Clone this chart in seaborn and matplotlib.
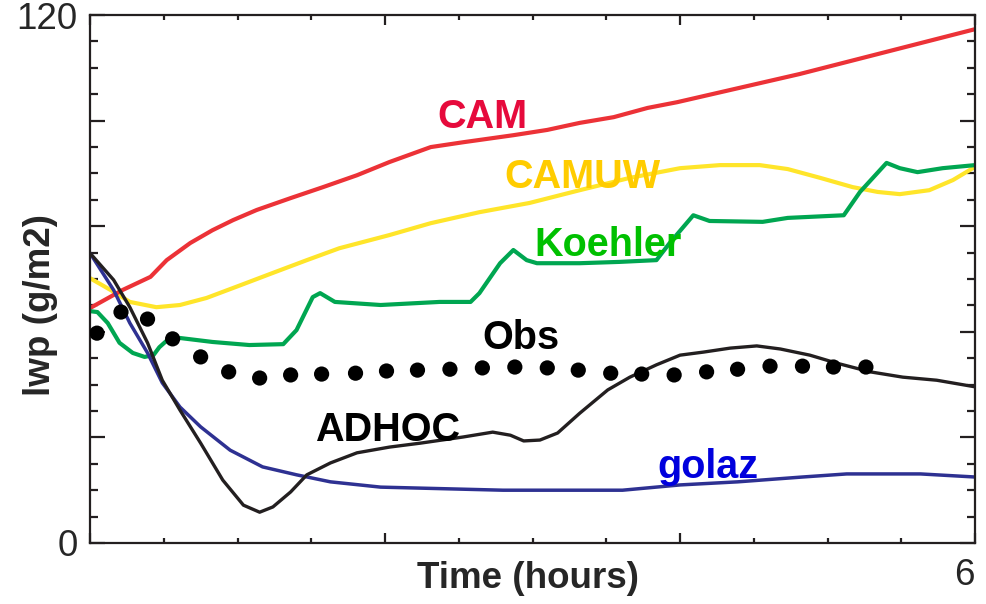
import matplotlib
matplotlib.use("Agg")
import matplotlib.pyplot as plt
import seaborn as sns
from matplotlib.ticker import MultipleLocator, FixedLocator, FixedFormatter

sns.set_style("ticks")
plt.rcParams['font.family'] = ['Liberation Sans', 'DejaVu Sans']

# ---------------- data ----------------
cam_t = [0, 0.22, 0.41, 0.52, 0.68, 0.83, 0.97, 1.13, 1.36, 1.58, 1.81, 2.03, 2.31,
         2.53, 2.87, 3.10, 3.32, 3.55, 3.78, 3.98, 4.81, 6.0]
cam_v = [53.4, 57.5, 60.5, 64.3, 68.2, 71.1, 73.4, 75.7, 78.4, 80.9, 83.6, 86.6, 90.0,
         91.1, 92.7, 93.9, 95.5, 96.8, 98.9, 100.2, 106.6, 116.8]

camuw_t = [0, 0.14, 0.27, 0.45, 0.61, 0.79, 1.02, 1.24, 1.47, 1.69, 2.03, 2.31, 2.64,
           2.98, 3.32, 3.66, 4.0, 4.27, 4.54, 4.73, 4.95, 5.17, 5.34, 5.49, 5.69, 5.85, 6.0]
camuw_v = [60.2, 57.5, 54.8, 53.6, 54.1, 55.7, 58.6, 61.4, 64.3, 67.0, 70.0, 72.7, 75.2,
           77.3, 80.2, 83.0, 85.2, 85.9, 85.9, 85.0, 83.0, 80.9, 79.8, 79.3, 80.2, 82.5, 85.5]

koehler_t = [0, 0.05, 0.12, 0.20, 0.29, 0.37, 0.43, 0.47, 0.54, 0.61, 0.83, 1.08, 1.31,
             1.40, 1.51, 1.56, 1.66, 1.97, 2.37, 2.58, 2.64, 2.78, 2.87, 2.96, 3.03,
             3.32, 3.59, 3.84, 3.93, 4.09, 4.20, 4.56, 4.73, 5.11, 5.22, 5.40, 5.49,
             5.61, 5.78, 6.0]
koehler_v = [52.7, 52.5, 50.0, 45.5, 43.2, 42.3, 42.7, 44.5, 46.6, 46.6, 45.7, 45.0, 45.2,
             48.4, 55.9, 56.8, 54.8, 54.1, 54.8, 54.8, 56.8, 63.6, 66.6, 64.3, 63.6,
             63.6, 63.9, 64.3, 68.2, 74.5, 73.2, 73.0, 73.9, 74.5, 79.8, 86.4, 85.2,
             84.3, 85.2, 85.9]

adhoc_t = [0, 0.16, 0.27, 0.39, 0.49, 0.61, 0.75, 0.90, 1.04, 1.15, 1.24, 1.36, 1.47,
           1.63, 1.81, 2.03, 2.24, 2.53, 2.73, 2.85, 2.94, 3.05, 3.17, 3.32, 3.51,
           3.66, 3.84, 4.0, 4.16, 4.34, 4.52, 4.68, 4.88, 5.06, 5.29, 5.51, 5.74, 6.0]
adhoc_v = [65.9, 59.8, 53.6, 45.5, 37.0, 30.2, 22.7, 14.3, 8.6, 7.0, 8.2, 11.6, 15.5,
           18.2, 20.5, 21.8, 22.7, 24.1, 25.2, 24.5, 23.2, 23.4, 25.0, 29.5, 34.8,
           37.7, 40.5, 42.7, 43.4, 44.3, 44.8, 44.1, 42.7, 40.9, 38.9, 37.7, 37.0, 35.5]

golaz_t = [0, 0.16, 0.27, 0.39, 0.49, 0.61, 0.75, 0.95, 1.17, 1.40, 1.63, 1.97, 2.80,
           3.61, 4.0, 4.39, 4.83, 5.13, 5.63, 6.0]
golaz_v = [65.9, 57.5, 50.0, 43.2, 36.4, 30.9, 26.4, 21.1, 17.3, 15.5, 13.9, 12.7, 12.0,
           12.0, 13.2, 13.9, 15.0, 15.7, 15.7, 15.0]

obs_t = [0.047, 0.21, 0.39, 0.56, 0.75, 0.94, 1.15, 1.36, 1.57, 1.80, 2.01, 2.22, 2.44,
         2.66, 2.88, 3.10, 3.31, 3.53, 3.74, 3.96, 4.18, 4.39, 4.61, 4.83, 5.04, 5.26]
obs_v = [47.7, 52.5, 50.9, 46.4, 42.3, 38.9, 37.5, 38.2, 38.4, 38.6, 39.1, 39.3, 39.5,
         39.8, 40.0, 39.8, 39.3, 38.6, 38.4, 38.2, 38.9, 39.5, 40.2, 40.2, 40.0, 40.0]

y_ticks = [0, 24, 48, 72, 96, 120]
y_tick_labels = ['0', '', '', '', '', '120']
x_ticks = [0, 2, 4, 6]
x_tick_labels = ['', '', '', '6']

# ---------------- figure ----------------
fig = plt.figure(figsize=(9.87, 6.04), dpi=100)
ax = fig.add_axes([0.0912, 0.101, 0.8967, 0.874])

sns.lineplot(x=camuw_t, y=camuw_v, ax=ax, color='#ffe52a', lw=3.0)
sns.lineplot(x=cam_t, y=cam_v, ax=ax, color='#ec3237', lw=3.0)
sns.lineplot(x=koehler_t, y=koehler_v, ax=ax, color='#00a651', lw=3.0)
sns.lineplot(x=golaz_t, y=golaz_v, ax=ax, color='#2e3192', lw=2.5)
sns.lineplot(x=adhoc_t, y=adhoc_v, ax=ax, color='#231f20', lw=2.4)
sns.scatterplot(x=obs_t, y=obs_v, ax=ax, color='black', s=120, edgecolor='none', zorder=5)

ax.set_xlim(0, 6)
ax.set_ylim(0, 120)

txt = dict(fontsize=28.5, fontweight='bold', ha='center', va='center')
ax.text(2.66, 96.8, 'CAM', color='#e60a3c', **txt)
ax.text(3.34, 83.2, 'CAMUW', color='#ffcc00', **txt)
ax.text(3.51, 67.7, 'Koehler', color='#00c000', **txt)
ax.text(2.92, 46.6, 'Obs', color='black', **txt)
ax.text(2.02, 25.7, 'ADHOC', color='black', **txt)
ax.text(4.19, 17.3, 'golaz', color='#0000dd', **txt)

ax.yaxis.set_major_locator(FixedLocator(y_ticks))
ax.yaxis.set_major_formatter(FixedFormatter(y_tick_labels))
ax.yaxis.set_minor_locator(MultipleLocator(6))
ax.xaxis.set_major_locator(FixedLocator(x_ticks))
ax.xaxis.set_major_formatter(FixedFormatter(x_tick_labels))
ax.xaxis.set_minor_locator(MultipleLocator(0.5))

for s in ax.spines.values():
    s.set_linewidth(1.6)
    s.set_color('#231f20')

ax.tick_params(which='both', direction='in', top=True, right=True,
               color='#231f20', width=1.6, labelsize=26.5)
ax.tick_params(axis='y', which='major', length=11, pad=9)
ax.tick_params(axis='y', which='minor', length=5.8)
ax.tick_params(axis='x', which='major', length=7.5, pad=11)
ax.tick_params(axis='x', which='minor', length=3.6)
for lab in ax.get_xticklabels():
    lab.set_ha('right')

ax.set_xlabel('Time (hours)', fontsize=26.5, fontweight='bold')
ax.set_ylabel('lwp (g/m2)', fontsize=26.5, fontweight='bold')
ax.xaxis.set_label_coords(0.495, -0.035)
ax.yaxis.set_label_coords(-0.036, 0.45)

fig.savefig('out.png', dpi=100)
